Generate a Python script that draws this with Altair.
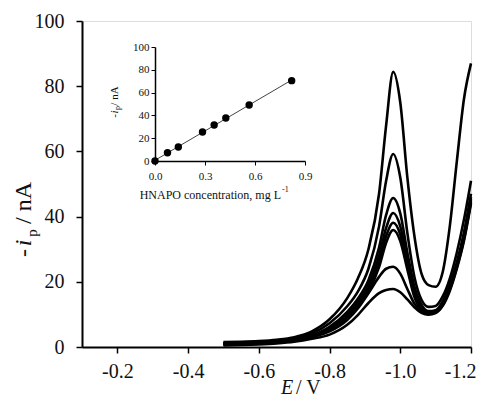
import altair as alt
import pandas as pd

# ---------------- data ----------------
E = [-0.50, -0.55, -0.60, -0.65, -0.70, -0.75, -0.80, -0.85, -0.88, -0.91, -0.94, -0.96,
     -0.98, -1.00, -1.02, -1.04, -1.06, -1.08, -1.10, -1.12, -1.14, -1.16, -1.18, -1.20]

curve_A = [1.5, 1.6, 1.8, 2.2, 3.0, 4.8, 8.5, 15.0, 21.0, 30.0, 47.0, 68.0,
           84.4, 75.0, 52.0, 34.0, 22.5, 19.0, 18.5, 23.0, 37.0, 57.0, 76.0, 87.0]
curve_B = [1.3, 1.4, 1.6, 2.0, 2.7, 4.2, 7.3, 12.5, 17.0, 24.0, 37.0, 51.0,
           59.2, 52.0, 35.0, 21.5, 14.5, 12.3, 12.6, 15.5, 21.0, 29.0, 39.0, 51.0]
curve_C = [1.1, 1.2, 1.4, 1.7, 2.3, 3.6, 6.2, 10.8, 14.8, 20.5, 30.5, 40.5,
           45.7, 41.0, 29.0, 18.5, 13.0, 11.0, 11.3, 14.0, 19.0, 26.0, 35.0, 47.0]
curve_D = [1.0, 1.1, 1.3, 1.6, 2.2, 3.4, 5.8, 10.0, 13.8, 19.0, 28.0, 36.5,
           41.1, 37.0, 26.5, 17.0, 12.3, 10.7, 11.1, 13.7, 18.7, 25.5, 34.5, 46.0]
curve_E = [0.9, 1.0, 1.2, 1.5, 2.1, 3.3, 5.5, 9.4, 13.0, 17.8, 26.0, 34.0,
           38.1, 34.5, 25.0, 16.0, 11.8, 10.5, 10.9, 13.4, 18.3, 25.0, 34.0, 45.5]
curve_F = [0.8, 0.9, 1.1, 1.4, 2.0, 3.2, 5.2, 9.0, 12.4, 17.0, 24.5, 32.0,
           35.9, 32.5, 23.8, 15.3, 11.4, 10.3, 10.8, 13.2, 18.0, 25.0, 33.5, 45.0]
curve_G = [0.7, 0.8, 1.0, 1.3, 1.9, 3.0, 4.8, 8.3, 11.8, 16.5, 21.5, 24.0,
           24.6, 22.5, 17.8, 13.3, 11.0, 10.1, 10.6, 12.9, 17.6, 24.5, 33.0, 44.5]
curve_H = [0.5, 0.6, 0.8, 1.1, 1.6, 2.5, 3.8, 6.8, 9.8, 13.5, 16.5, 17.5,
           17.8, 16.8, 14.6, 12.2, 10.5, 9.9, 10.4, 12.6, 17.2, 24.0, 32.5, 44.0]

curves = {"A": curve_A, "B": curve_B, "C": curve_C, "D": curve_D,
          "E": curve_E, "F": curve_F, "G": curve_G, "H": curve_H}

conc = [0.0, 0.075, 0.14, 0.285, 0.355, 0.425, 0.565, 0.82]
ip = [0.0, 7.3, 12.3, 25.4, 31.6, 37.7, 49.1, 70.5]

main_x_ticks = [-0.2, -0.4, -0.6, -0.8, -1.0, -1.2]
main_y_ticks = [0, 20, 40, 60, 80, 100]
inset_x_ticks = [0.0, 0.3, 0.6, 0.9]
inset_y_ticks = [0, 20, 40, 60, 80, 100]

rows = []
for name, vals in curves.items():
    for e, v in zip(E, vals):
        rows.append({"curve": name, "E": e, "I": v})
cv = pd.DataFrame(rows)
cal = pd.DataFrame({"c": conc, "ip": ip})

SERIF = "Liberation Serif"
W, H = 389, 326

# ---------------- main voltammograms ----------------
main = alt.Chart(cv).mark_line(interpolate="monotone", color="black", strokeWidth=2.6).encode(
    x=alt.X("E:Q",
            scale=alt.Scale(domain=[-1.2, -0.1], reverse=True, nice=False),
            axis=alt.Axis(values=main_x_ticks, title=None, grid=False,
                          labelExpr="'-' + format(abs(datum.value), '.1f')",
                          labelFont=SERIF, labelFontSize=20, labelColor="#111",
                          labelPadding=8, tickSize=6, tickColor="black", tickWidth=1.5,
                          domainColor="black", domainWidth=2,
                          labelFlush=True, labelFlushOffset=5)),
    y=alt.Y("I:Q",
            scale=alt.Scale(domain=[0, 100], nice=False),
            axis=alt.Axis(values=main_y_ticks, title=None, grid=False,
                          labelFont=SERIF, labelFontSize=20, labelColor="#111",
                          labelPadding=12, tickSize=6, tickColor="black", tickWidth=1.5,
                          domainColor="black", domainWidth=2, labelFlush=False)),
    detail="curve:N",
)

# ---------------- inset calibration ----------------
ix = alt.X("c:Q",
           scale=alt.Scale(domain=[0, 0.9], range=[73, 223], nice=False),
           axis=alt.Axis(orient="bottom", offset=-186, values=inset_x_ticks, format=".1f",
                         title=None, grid=False, labelFont=SERIF, labelFontSize=11,
                         labelColor="#111", labelPadding=5, tickSize=4, tickColor="black",
                         domainColor="black", domainWidth=1.5, labelFlush=False))
iy = alt.Y("ip:Q",
           scale=alt.Scale(domain=[0, 100], range=[140, 26], nice=False),
           axis=alt.Axis(orient="left", offset=-73, values=inset_y_ticks,
                         title=None, grid=False, labelFont=SERIF, labelFontSize=11,
                         labelColor="#111", labelPadding=2, tickSize=4, tickColor="black",
                         domainColor="black", domainWidth=1.5, labelFlush=False))

base_inset = alt.Chart(cal)
fit = base_inset.transform_regression("c", "ip", extent=[0, 0.82]).mark_line(
    color="#444", strokeWidth=1).encode(x=ix, y=iy)
pts = base_inset.mark_point(filled=True, shape="circle", size=55, color="black", opacity=1).encode(x=ix, y=iy)
inset = alt.layer(fit, pts)

# ---------------- composed titles ----------------
def txt(s, x, y, size, angle=0, style="normal", align="center", baseline="middle"):
    return alt.Chart(pd.DataFrame({"t": [s]})).mark_text(
        font=SERIF, fontSize=size, fontStyle=style, angle=angle, align=align,
        baseline=baseline, color="#111").encode(
        text="t:N", x=alt.value(x), y=alt.value(y))

ox, oy = 82, 21  # plot origin in page pixels
titles = [
    # main y title  "-i_p / nA"
    txt("/ nA", 24 - ox, 203 - oy, 24, angle=270),
    txt("p", 32 - ox, 233 - oy, 15, angle=270),
    txt("i", 24 - ox, 243 - oy, 24, angle=270, style="italic"),
    txt("-", 24 - ox, 253 - oy, 24, angle=270),
    # main x title "E / V"
    txt("E", 287 - ox, 394 - oy, 20, style="italic", baseline="alphabetic"),
    txt("/ V", 296 - ox, 394 - oy, 20, align="left", baseline="alphabetic"),
    # inset y title
    txt("/ nA", 115 - ox, 96 - oy, 11, angle=270),
    txt("p", 118 - ox, 108 - oy, 8, angle=270),
    txt("i", 115 - ox, 112 - oy, 11, angle=270, style="italic"),
    txt("-", 115 - ox, 116 - oy, 11, angle=270),
    # inset x title
    txt("HNAPO concentration, mg L", 281 - ox, 195 - oy, 12, align="right"),
    txt("-1", 282 - ox, 190 - oy, 8, align="left"),
]

chart = alt.layer(main, inset, *titles).resolve_scale(
    x="independent", y="independent").resolve_axis(
    x="independent", y="independent").properties(
    width=W, height=H,
    padding={"left": 74, "top": 13, "right": 5, "bottom": 52},
    autosize=alt.AutoSizeParams(type="none"),
).configure_view(stroke="black", strokeWidth=2).configure(background="white")

chart.save("out.html", embed_options={"renderer": "svg", "actions": False})
